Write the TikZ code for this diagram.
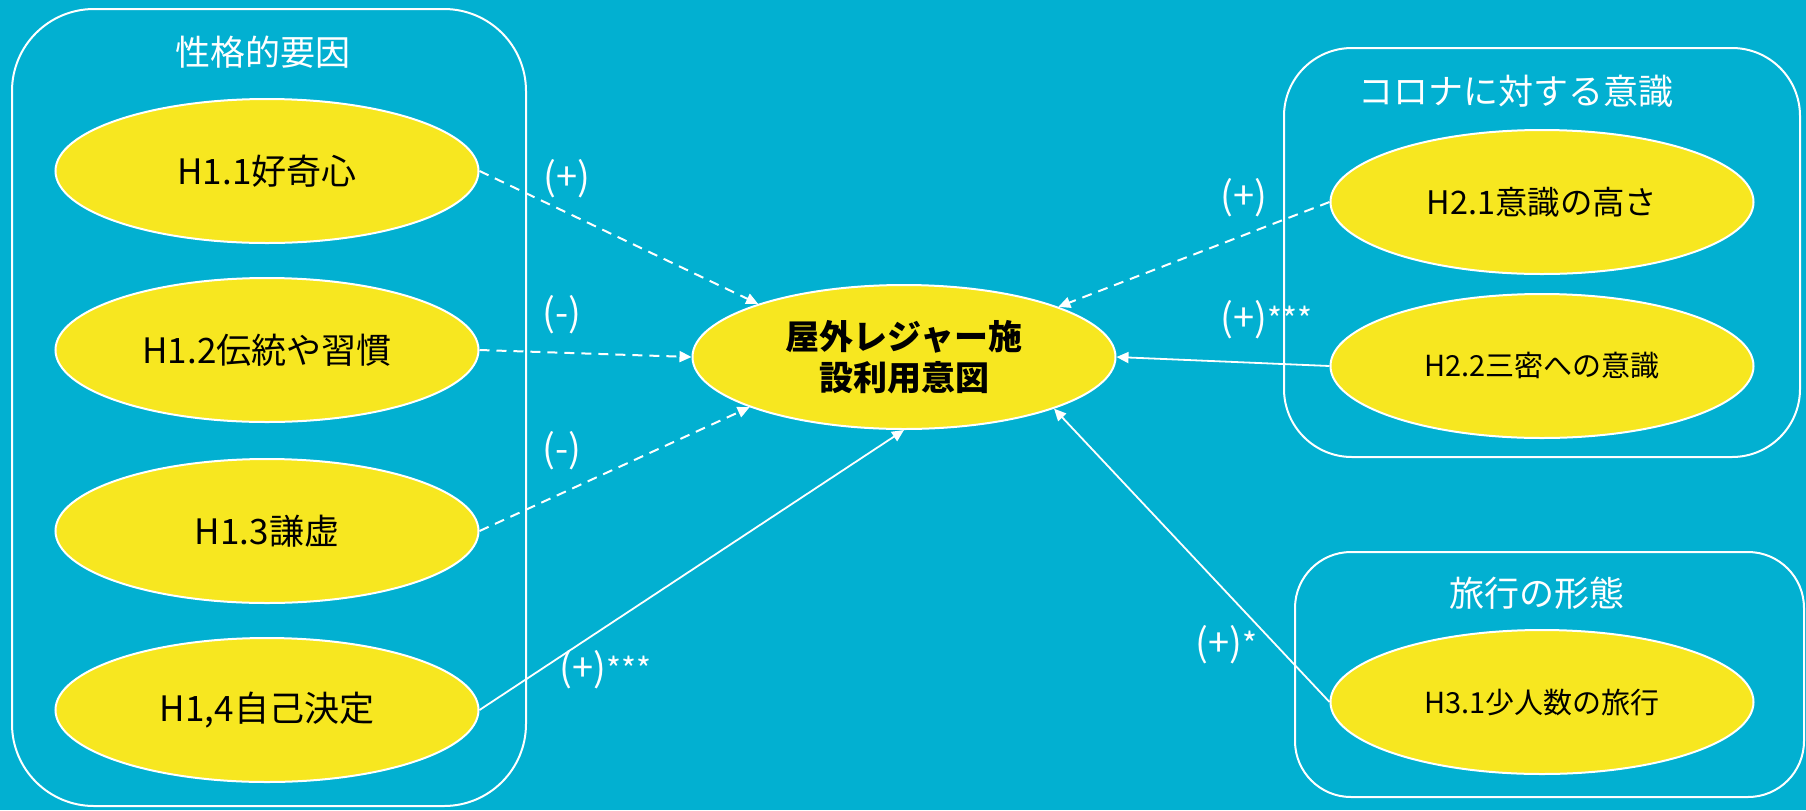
\documentclass[tikz,border=0pt]{standalone}
\usepackage{fontspec}
\setmainfont{Noto Sans CJK JP}
\usetikzlibrary{shapes.geometric,arrows.meta}
\definecolor{bg}{RGB}{2,176,209}
\definecolor{ylw}{RGB}{247,231,32}
\newcommand{\starsz}{\fontsize{16}{18}\selectfont}
\begin{document}
\begin{tikzpicture}[x=0.5pt,y=-0.5pt,
  oval/.style={ellipse,draw=white,line width=1pt,fill=ylw,minimum width=211.5pt,minimum height=72pt,inner sep=0pt,text=black,align=center},
  grp/.style={draw=white,line width=1pt},
  ttl/.style={text=white,inner sep=0pt,font=\fontsize{17.5}{21}\selectfont},
  lbl/.style={text=white,inner sep=0pt,font=\fontsize{19}{22}\selectfont},
  dlink/.style={draw=white,line width=1pt,dash pattern=on 5pt off 3.5pt,-{Triangle[length=6pt,width=5.5pt]}},
  slink/.style={draw=white,line width=0.9pt,-{Triangle[length=6pt,width=5.5pt]}},
]
\fill[bg] (0,0) rectangle (1806,810);
\useasboundingbox (0,0) rectangle (1806,810);
% group boxes
\draw[grp,rounded corners=41pt] (12,9) rectangle (526,806);
\draw[grp,rounded corners=34pt] (1284,48) rectangle (1800,457);
\draw[grp,rounded corners=28pt] (1295,552) rectangle (1804,797);
% titles
\node[ttl] (t1) at (263,52) {性格的要因};
\node[ttl] (t2) at (1516,91) {コロナに対する意識};
\node[ttl] (t3) at (1537,593) {旅行の形態};
% ellipses
\node[oval,font=\fontsize{17.5}{21}\selectfont] (h11) at (267,171) {H1.1好奇心};
\node[oval,font=\fontsize{17.5}{21}\selectfont] (h12) at (267,350) {H1.2伝統や習慣};
\node[oval,font=\fontsize{17.5}{21}\selectfont] (h13) at (267,531) {H1.3謙虚};
\node[oval,font=\fontsize{17.5}{21}\selectfont] (h14) at (267,710) {H1,4自己決定};
\node[oval,font=\fontsize{17}{20.5}\selectfont\bfseries] (goal) at (904,357) {屋外レジャー施\\設利用意図};
\node[oval,font=\fontsize{16.2}{19}\selectfont] (h21) at (1542,202) {H2.1意識の高さ};
\node[oval,font=\fontsize{14.5}{17}\selectfont] (h22) at (1542,366) {H2.2三密への意識};
\node[oval,font=\fontsize{14.5}{17}\selectfont] (h31) at (1542,702) {H3.1少人数の旅行};
% connectors
\draw[dlink] (h11.east) -- (goal.160.8);
\draw[dlink] (h12.east) -- (goal.west);
\draw[dlink] (h13.east) -- (goal.198.2);
\draw[slink] (h14.east) -- (goal.south);
\draw[dlink] (h21.west) -- (goal.18.8);
\draw[slink] (h22.west) -- (goal.east);
\draw[slink] (h31.west) -- (goal.341.3);
% labels
\node[lbl] (l1) at (567,179) {(+)};
\node[lbl] (l2) at (562,315) {(-)};
\node[lbl] (l3) at (562,451) {(-)};
\node[lbl,anchor=west] (l4) at (559,670) {(+){\starsz***}};
\node[lbl] (l5) at (1244,198) {(+)};
\node[lbl,anchor=west] (l6) at (1220,320) {(+){\starsz***}};
\node[lbl,anchor=west] (l7) at (1195,645) {(+){\starsz*}};
\end{tikzpicture}
\end{document}
